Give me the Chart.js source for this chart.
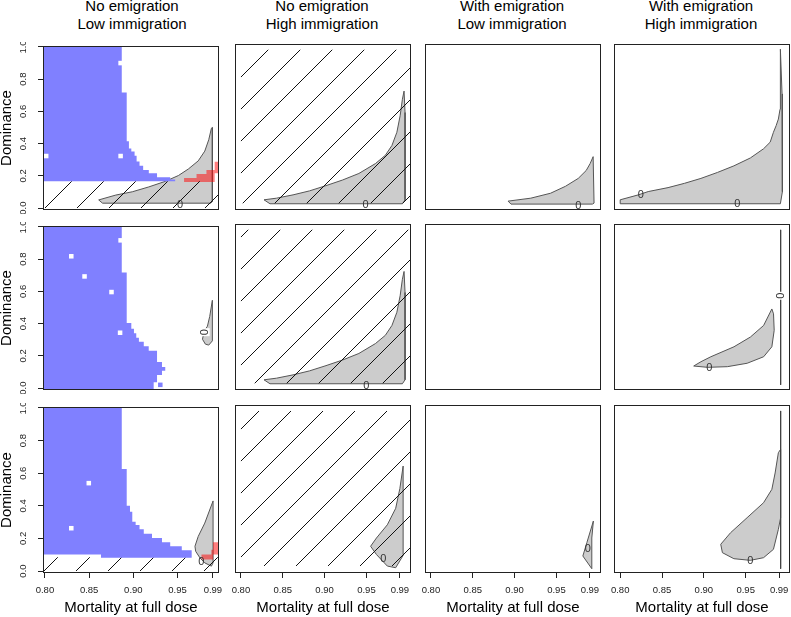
<!DOCTYPE html>
<html>
<head>
<meta charset="utf-8">
<script src="https://cdn.jsdelivr.net/npm/chart.js@4.4.0/dist/chart.umd.min.js"></script>
<style>
  body { margin: 0; background: #fff; width: 791px; height: 617px; position: relative; overflow: hidden; font-family: "Liberation Sans", Arial, sans-serif; }
  canvas { position: absolute; }
  .ttl { position: absolute; top: -3px; width: 178px; text-align: center; font-size: 15px; line-height: 18px; color: #000; }
</style>
</head>
<body>
<script>
// ---- axes ----
const xTicks = [0.80, 0.85, 0.90, 0.95, 0.99];
const yTicks = [0, 0.2, 0.4, 0.6, 0.8, 1.0];
const colTitles = [
  ['No emigration', 'Low immigration'],
  ['No emigration', 'High immigration'],
  ['With emigration', 'Low immigration'],
  ['With emigration', 'High immigration']
];

// ---- row 1 ----
const blue11 = [[0.7978,1.006],[0.8869,1.006],[0.8869,0.717],[0.8925,0.717],[0.8925,0.414],[0.895,0.414],[0.895,0.37],[0.8977,0.37],[0.8977,0.3515],[0.9014,0.3515],[0.9014,0.325],[0.9037,0.325],[0.9037,0.289],[0.907,0.289],[0.907,0.2626],[0.9111,0.2626],[0.9111,0.236],[0.9175,0.236],[0.9175,0.216],[0.9268,0.216],[0.9268,0.192],[0.9417,0.192],[0.9417,0.178],[0.9473,0.178],[0.9473,0.166],[0.7978,0.166],[0.7978,1.006]];
const holes11 = [[0.8856,0.90],[0.8014,0.323],[0.8856,0.323]];
const red11 = [[0.9574,0.1616],[0.992,0.1616],[0.992,0.216],[0.9969,0.216],[0.9969,0.287],[0.992,0.287],[0.992,0.236],[0.9827,0.236],[0.9827,0.212],[0.9715,0.212],[0.9715,0.186],[0.9574,0.186],[0.9574,0.1616]];
const gray11 = [[0.8608,0.0505],[0.8802,0.0808],[0.8988,0.101],[0.9175,0.1313],[0.9361,0.1657],[0.951,0.202],[0.9622,0.2424],[0.9734,0.2929],[0.9808,0.3535],[0.9853,0.4242],[0.9883,0.495],[0.9894,0.50],[0.9894,0.0404],[0.9876,0.0303],[0.8652,0.0303],[0.8608,0.0505]];
const hatch11 = [[0.79,0],[1.0,0],[1.0,0.166],[0.79,0.166],[0.79,0]];
const zeros11 = [[0.9529,0.02,0]];

const gray12 = [[0.8276,0.0505],[0.8426,0.0606],[0.8623,0.0808],[0.8819,0.1051],[0.9017,0.1374],[0.9214,0.1717],[0.941,0.2121],[0.9608,0.2727],[0.9726,0.3232],[0.9805,0.3838],[0.9864,0.4646],[0.9903,0.5657],[0.993,0.6667],[0.995,0.7172],[0.9962,0.5859],[0.9962,0.0505],[0.993,0.0263],[0.8347,0.0263],[0.8276,0.0505]];
const hatch12 = [[0.80,0.03],[1.01,0.03],[1.01,0.97],[0.80,0.97],[0.80,0.03]];
const zeros12 = [[0.9489,0.02,0]];

const gray13 = [[0.8922,0.0424],[0.9194,0.0606],[0.943,0.0909],[0.9608,0.1333],[0.9761,0.1818],[0.9856,0.2303],[0.9903,0.2727],[0.9939,0.3152],[0.995,0.0303],[0.993,0.0242],[0.8957,0.0242],[0.8922,0.0424]];
const zeros13 = [[0.9761,0.018,0]];

const gray14 = [[0.80,0.0505],[0.8217,0.0808],[0.8335,0.101],[0.8572,0.1253],[0.8768,0.1515],[0.8965,0.1818],[0.9162,0.2182],[0.9359,0.2586],[0.9556,0.3071],[0.9714,0.3636],[0.9793,0.404],[0.9832,0.4646],[0.9864,0.505],[0.9891,0.5455],[0.9911,0.606],[0.9915,0.7879],[0.9915,0.974],[0.9935,0.7],[0.9943,0.4],[0.9935,0.1],[0.9915,0.0263],[0.80,0.0263],[0.80,0.0505]];
const zeros14 = [[0.8245,0.0808,0],[0.9399,0.0303,0]];

// ---- row 2 ----
const blue21 = [[0.7978,1.006],[0.8869,1.006],[0.8869,0.717],[0.8925,0.717],[0.8925,0.404],[0.8977,0.404],[0.8977,0.368],[0.9007,0.368],[0.9007,0.34],[0.9033,0.34],[0.9033,0.313],[0.9063,0.313],[0.9063,0.287],[0.9118,0.287],[0.9118,0.259],[0.9174,0.259],[0.9174,0.232],[0.9268,0.232],[0.9268,0.162],[0.9324,0.162],[0.9324,0.131],[0.9361,0.131],[0.9361,0.107],[0.9324,0.107],[0.9324,0.081],[0.9268,0.081],[0.9268,0.036],[0.923,0.036],[0.923,-0.02],[0.7978,-0.02],[0.7978,1.006]];
const holes21 = [[0.8856,0.917],[0.8298,0.818],[0.8448,0.693],[0.8753,0.596],[0.885,0.3434]];
const bluePts21 = [[0.9305,0.02]];
const gray21 = [[0.9894,0.545],[0.9864,0.4444],[0.9838,0.3838],[0.9801,0.3535],[0.9782,0.303],[0.9815,0.2727],[0.9853,0.2667],[0.9894,0.2929],[0.9894,0.545]];
const zeros21 = [[0.9807,0.347,90]];

const gray22 = [[0.8276,0.0505],[0.8426,0.0606],[0.8623,0.0808],[0.8819,0.1051],[0.9017,0.1374],[0.9214,0.1717],[0.941,0.2121],[0.9608,0.2727],[0.9726,0.3232],[0.9805,0.3838],[0.9864,0.4646],[0.9903,0.5657],[0.993,0.6667],[0.995,0.715],[0.9962,0.5859],[0.9962,0.0505],[0.993,0.0263],[0.8347,0.0263],[0.8276,0.0505]];
const hatch22 = [[0.80,0.03],[1.01,0.03],[1.01,0.97],[0.80,0.97],[0.80,0.03]];
const zeros22 = [[0.95,0.018,0]];

const gray24 = [[0.8879,0.135],[0.8966,0.1616],[0.9084,0.192],[0.936,0.253],[0.9557,0.313],[0.9715,0.384],[0.9813,0.485],[0.9833,0.455],[0.9841,0.354],[0.9813,0.253],[0.9715,0.192],[0.9518,0.152],[0.9281,0.131],[0.9045,0.127],[0.8879,0.135]];
const vline24 = [[0.9918,0.97],[0.9918,0.02]];
const zeros24 = [[0.9918,0.566,90],[0.9064,0.125,0]];

// ---- row 3 ----
const blue31 = [[0.7978,1.006],[0.8869,1.006],[0.8869,0.626],[0.8925,0.626],[0.8925,0.40],[0.8962,0.40],[0.8962,0.364],[0.8988,0.364],[0.8988,0.303],[0.9026,0.303],[0.9026,0.283],[0.907,0.283],[0.907,0.257],[0.9118,0.257],[0.9118,0.228],[0.9211,0.228],[0.9211,0.202],[0.9324,0.202],[0.9324,0.176],[0.9417,0.176],[0.9417,0.152],[0.9548,0.152],[0.9548,0.127],[0.966,0.127],[0.966,0.081],[0.8634,0.081],[0.8634,0.101],[0.7978,0.101],[0.7978,1.006]];
const holes31 = [[0.8496,0.539],[0.8298,0.2626]];
const red31 = [[0.9771,0.071],[0.9902,0.071],[0.9902,0.101],[0.9969,0.101],[0.9969,0.176],[0.9902,0.176],[0.9902,0.131],[0.9883,0.131],[0.9883,0.101],[0.9771,0.101],[0.9771,0.071]];
const gray31 = [[0.9902,0.43],[0.9808,0.294],[0.9734,0.2125],[0.9697,0.152],[0.9705,0.121],[0.9753,0.081],[0.9808,0.05],[0.9883,0.03],[0.9902,0.05],[0.9902,0.43]];
const hatch31 = [[0.79,0],[1.0,0],[1.0,0.085],[0.79,0.085],[0.79,0]];
const zeros31 = [[0.977,0.06,0]];

const gray32 = [[0.9939,0.636],[0.99,0.5],[0.985,0.38],[0.975,0.28],[0.962,0.2],[0.955,0.15],[0.962,0.1],[0.975,0.03],[0.985,0.02],[0.9945,0.1],[0.9939,0.636]];
const hatch32 = [[0.80,0.03],[1.01,0.03],[1.01,0.97],[0.80,0.97],[0.80,0.03]];
const zeros32 = [[0.9702,0.079,0]];

const gray33 = [[0.9942,0.303],[0.9864,0.172],[0.9816,0.091],[0.9923,0.014],[0.9923,0.2],[0.9942,0.303]];
const zeros33 = [[0.9874,0.135,0]];

const gray34 = [[0.9918,0.7374],[0.9891,0.717],[0.9852,0.594],[0.9813,0.4949],[0.9714,0.414],[0.9517,0.323],[0.932,0.2323],[0.9202,0.162],[0.9222,0.1111],[0.9359,0.0747],[0.9556,0.0646],[0.9714,0.0808],[0.9832,0.1313],[0.9891,0.2525],[0.9918,0.3232],[0.9918,0.7374]];
const vline34 = [[0.9918,0.97],[0.9918,0.014]];
const zeros34 = [[0.9556,0.0646,0]];

// ---- layout ----
const FONT = "'Liberation Sans', Arial, sans-serif";
const boxLeft = [43, 233, 423, 612];
const boxTop = [44, 224, 405];
const BW = 178, BH = 168;
const xRanges = [[0.7978, 0.9969], [0.7929, 1.0033], [0.7929, 1.0033], [0.7926, 1.0030]];
const yRange = [-0.012, 1.006];

const panels = [
  { r: 0, c: 0, gray: gray11, red: red11, hatch: hatch11, blue: blue11, holes: holes11, zeros: zeros11, phase: 29 },
  { r: 0, c: 1, gray: gray12, hatch: hatch12, zeros: zeros12, phase: 30 },
  { r: 0, c: 2, gray: gray13, zeros: zeros13 },
  { r: 0, c: 3, gray: gray14, zeros: zeros14 },
  { r: 1, c: 0, gray: gray21, blue: blue21, holes: holes21, bluePts: bluePts21, zeros: zeros21 },
  { r: 1, c: 1, gray: gray22, hatch: hatch22, zeros: zeros22, phase: 30 },
  { r: 1, c: 2 },
  { r: 1, c: 3, gray: gray24, vline: vline24, zeros: zeros24 },
  { r: 2, c: 0, gray: gray31, red: red31, hatch: hatch31, blue: blue31, holes: holes31, zeros: zeros31, phase: 7 },
  { r: 2, c: 1, gray: gray32, hatch: hatch32, zeros: zeros32, phase: 30 },
  { r: 2, c: 2, gray: gray33, zeros: zeros33 },
  { r: 2, c: 3, gray: gray34, vline: vline34, zeros: zeros34 }
];

Chart.defaults.font.family = FONT;

const pts = arr => arr.map(([x, y]) => ({ x, y }));

function shape(arr, fillColor, lineColor, lw) {
  return { data: pts(arr), showLine: true, fill: 'shape', backgroundColor: fillColor,
           borderColor: lineColor, borderWidth: lw, pointRadius: 0, tension: 0 };
}
function markers(arr, color) {
  return { data: pts(arr), showLine: false, pointStyle: 'rect', pointRadius: 3.2,
           pointBackgroundColor: color, pointBorderWidth: 0, borderWidth: 0 };
}
function hatchPattern(ctx, shift) {
  const t = document.createElement('canvas');
  t.width = t.height = 32;
  const g = t.getContext('2d');
  g.strokeStyle = '#111'; g.lineWidth = 1;
  g.beginPath();
  [-32, 0, 32].forEach(o => { g.moveTo(o, 32); g.lineTo(o + 32, 0); });
  g.stroke();
  const p = ctx.createPattern(t, 'repeat');
  p.setTransform(new DOMMatrix().translate(shift, 0));
  return p;
}

// frame round the plot region
const boxPlugin = {
  id: 'box',
  afterDraw(c) {
    const a = c.chartArea, ctx = c.ctx;
    ctx.save();
    ctx.strokeStyle = '#222'; ctx.lineWidth = 1;
    ctx.strokeRect(Math.round(a.left) + 0.5, Math.round(a.top) + 0.5, Math.round(a.right - a.left) - 1, Math.round(a.bottom - a.top) - 1);
    ctx.restore();
  }
};
// contour labels "0"
const zeroPlugin = {
  id: 'zeros',
  afterDatasetsDraw(c, args, opts) {
    const ctx = c.ctx;
    (opts.points || []).forEach(([x, y, rot]) => {
      const px = c.scales.x.getPixelForValue(x), py = c.scales.y.getPixelForValue(y);
      ctx.save();
      ctx.translate(px, py);
      ctx.rotate(-rot * Math.PI / 180);
      if (rot) { ctx.fillStyle = '#fff'; ctx.fillRect(-4, -5, 8, 10); }
      ctx.fillStyle = '#333';
      ctx.font = '11px ' + FONT;
      ctx.textAlign = 'center'; ctx.textBaseline = 'middle';
      ctx.fillText('0', 0, 0.5);
      ctx.restore();
    });
  }
};
Chart.register(boxPlugin, zeroPlugin);

colTitles.forEach((t, c) => {
  const d = document.createElement('div');
  d.className = 'ttl';
  d.style.left = boxLeft[c] + 'px';
  d.innerHTML = t[0] + '<br>' + t[1];
  document.body.appendChild(d);
});

panels.forEach(p => {
  const padL = p.c === 0 ? 43 : 2;
  const padB = p.r === 2 ? 617 - boxTop[2] - BH : 2;
  const left = boxLeft[p.c] - padL, top = boxTop[p.r] - 2;
  const cv = document.createElement('canvas');
  cv.width = BW + padL + 2; cv.height = BH + 2 + padB;
  cv.style.left = left + 'px'; cv.style.top = top + 'px';
  document.body.appendChild(cv);
  const ctx = cv.getContext('2d');

  const layers = [];
  if (p.gray) layers.push(shape(p.gray, '#cccccc', '#555555', 1));
  if (p.red) layers.push(shape(p.red, 'rgba(255,0,0,0.5)', 'rgba(0,0,0,0)', 0));
  if (p.hatch) {
    const shift = (((p.phase - left - top) % 32) + 32) % 32;
    layers.push(shape(p.hatch, hatchPattern(ctx, shift), 'rgba(0,0,0,0)', 0));
  }
  if (p.blue) layers.push(shape(p.blue, '#8080ff', 'rgba(0,0,0,0)', 0));
  if (p.vline) layers.push({ data: pts(p.vline), showLine: true, fill: false, borderColor: '#444', borderWidth: 1, pointRadius: 0 });
  if (p.holes) layers.push(markers(p.holes, '#ffffff'));
  if (p.bluePts) layers.push(markers(p.bluePts, '#8080ff'));

  new Chart(ctx, {
    type: 'scatter',
    data: { datasets: layers.reverse() },
    options: {
      responsive: false, animation: false, events: [],
      layout: { padding: { left: p.c === 0 ? 0 : padL, right: 2, top: 2, bottom: p.r === 2 ? 0 : 2 } },
      plugins: { legend: { display: false }, tooltip: { enabled: false }, zeros: { points: p.zeros || [] } },
      scales: {
        x: {
          type: 'linear', min: xRanges[p.c][0], max: xRanges[p.c][1], display: p.r === 2,
          afterBuildTicks: s => { s.ticks = xTicks.map(v => ({ value: v })); },
          afterFit: s => { s.height = padB; s.paddingLeft = 0; s.paddingRight = 0; },
          ticks: { callback: v => v.toFixed(2), autoSkip: false, maxRotation: 0, minRotation: 0, padding: 7, color: '#222', font: { size: 9.5 } },
          grid: { drawOnChartArea: false, tickLength: 5, color: '#222' },
          border: { display: false },
          title: { display: true, text: 'Mortality at full dose', color: '#000', font: { size: 15 }, padding: 0 }
        },
        y: {
          type: 'linear', min: yRange[0], max: yRange[1], display: p.c === 0,
          afterBuildTicks: s => { s.ticks = yTicks.map(v => ({ value: v })); },
          afterFit: s => { s.width = padL; s.paddingTop = 0; s.paddingBottom = 0; },
          ticks: { callback: v => v.toFixed(1), autoSkip: false, minRotation: 90, maxRotation: 90, crossAlign: 'center', padding: 8, color: '#222', font: { size: 9.5 } },
          grid: { drawOnChartArea: false, tickLength: 5, color: '#222' },
          border: { display: false },
          title: { display: true, text: 'Dominance', color: '#000', font: { size: 15, lineHeight: 0.93 }, padding: 0 }
        }
      }
    }
  });
});
</script>
</body>
</html>
